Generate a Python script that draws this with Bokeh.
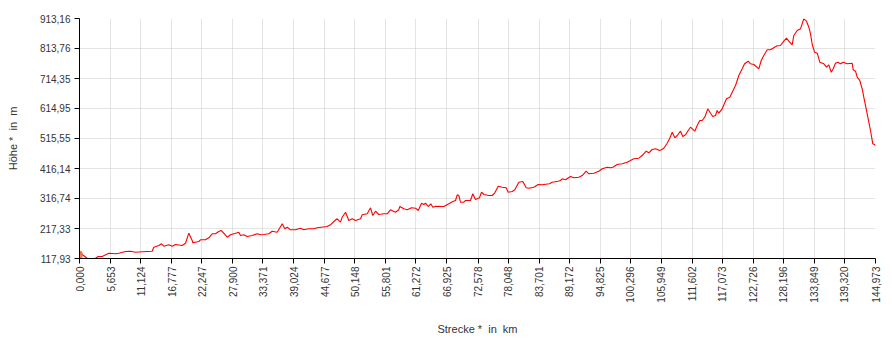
from bokeh.plotting import figure
from bokeh.models import Range1d, FixedTicker
from bokeh.embed import file_html
from bokeh.resources import INLINE
import math

# ---- data ----
dist_km = [0.00, 0.49, 1.40, 2.00, 2.91, 3.41, 4.13, 5.34, 6.56, 7.16, 8.38, 9.29, 10.20, 11.42, 12.33,
           13.24, 13.53, 14.44, 14.93, 15.35, 16.26, 16.88, 17.48, 18.70, 19.31, 19.91, 20.53, 20.64,
           21.73, 22.04, 22.95, 23.55, 24.17, 24.77, 25.37, 25.81, 26.28, 26.90, 27.50, 28.72, 29.01,
           29.32, 29.92, 30.54, 31.45, 32.36, 32.97, 33.57, 34.48, 35.10, 36.01, 36.92, 37.39, 37.83,
           38.43, 39.34, 40.25, 40.85, 41.76, 42.67, 43.29, 45.11, 45.71, 46.32, 46.93, 47.54, 47.84,
           48.45, 49.05, 49.67, 50.27, 51.18, 51.49, 52.40, 53.00, 53.42, 53.91, 54.51, 55.42, 56.04,
           56.64, 57.55, 58.15, 58.34, 59.07, 59.68, 60.47, 61.20, 61.69, 62.29, 62.71, 63.02, 63.51,
           63.98, 64.35, 64.84, 66.35, 67.26, 67.99, 68.48, 68.79, 69.08, 69.39, 69.99, 70.30, 71.21,
           71.63, 72.12, 72.85, 73.22, 73.64, 74.55, 75.16, 75.64, 76.26, 76.99, 77.71, 78.08, 78.81,
           79.28, 80.01, 80.74, 81.36, 81.83, 82.74, 83.54, 84.27, 85.60, 86.09, 87.18, 87.60, 87.91,
           88.52, 89.42, 90.03, 90.94, 91.56, 92.28, 92.76, 93.67, 94.58, 95.20, 96.11, 96.71, 97.13,
           97.93, 98.84, 99.75, 100.35, 100.95, 101.86, 102.48, 103.21, 103.69, 104.31, 104.91, 105.64,
           106.00, 106.42, 107.04, 107.46, 107.95, 108.42, 108.86, 109.46, 109.88, 110.37, 110.86,
           111.28, 112.06, 112.50, 112.97, 113.41, 113.88, 114.43, 114.92, 115.34, 115.83, 116.14,
           116.43, 117.05, 117.84, 118.44, 118.88, 119.48, 120.08, 120.70, 121.12, 121.79, 122.21,
           122.81, 123.72, 124.16, 124.63, 125.25, 125.85, 126.45, 127.07, 127.67, 128.27, 128.76,
           129.18, 129.80, 130.09, 130.71, 131.31, 131.92, 132.41, 132.83, 133.14, 133.45, 133.87,
           134.36, 134.83, 135.56, 136.05, 136.47, 136.91, 137.27, 137.69, 138.11, 138.60, 139.09,
           139.82, 140.73, 140.91, 141.33, 141.64, 142.11, 142.55, 142.84, 143.28, 143.64, 144.06,
           144.48, 144.85, 144.973]

elev_m = [138.8, 131.2, 118.9, 118.0, 118.9, 124.6, 124.6, 135.5, 133.5, 135.5, 141.1, 142.1, 138.8,
          140.1, 141.1, 142.1, 155.4, 161.0, 166.6, 158.7, 163.3, 158.7, 164.3, 161.0, 168.6, 201.8,
          177.6, 170.0, 174.3, 179.9, 179.9, 186.5, 199.8, 199.8, 207.4, 210.7, 201.8, 188.5, 196.5,
          203.1, 205.1, 194.1, 196.5, 190.8, 194.1, 199.8, 196.5, 197.5, 199.8, 208.4, 205.1, 232.9,
          216.3, 221.6, 213.0, 213.0, 218.3, 213.0, 216.3, 216.3, 219.6, 224.0, 229.6, 240.5, 249.5,
          238.2, 254.8, 271.3, 243.8, 249.5, 243.8, 249.5, 262.7, 266.0, 285.9, 260.4, 274.7, 263.7,
          266.0, 266.0, 279.3, 271.3, 279.3, 290.2, 282.6, 279.3, 285.9, 284.6, 277.0, 301.2, 296.9,
          301.2, 290.2, 299.2, 287.9, 291.2, 290.2, 299.2, 306.8, 310.1, 329.0, 326.7, 304.5, 304.5,
          310.1, 310.1, 332.3, 313.4, 319.1, 337.6, 330.0, 326.7, 326.7, 335.6, 357.5, 354.2, 352.2,
          337.6, 339.9, 345.6, 370.8, 373.1, 352.2, 350.9, 354.2, 363.1, 362.1, 365.4, 370.8, 374.1,
          376.4, 382.0, 378.7, 389.6, 385.3, 387.3, 392.9, 407.2, 398.6, 400.6, 407.2, 415.2, 420.4,
          418.5, 420.4, 429.4, 431.7, 437.0, 442.6, 448.3, 450.3, 459.2, 473.5, 468.2, 479.1, 481.4,
          475.8, 478.1, 483.4, 500.0, 514.6, 536.4, 517.9, 525.5, 539.7, 522.2, 527.8, 542.1, 553.0,
          539.7, 558.6, 575.2, 575.2, 586.1, 613.9, 599.4, 588.4, 591.8, 608.3, 599.4, 613.9, 647.1,
          652.4, 669.0, 691.2, 724.3, 746.5, 763.1, 771.7, 763.1, 760.7, 746.5, 774.0, 790.6, 809.4,
          809.4, 816.1, 822.7, 823.7, 838.0, 847.9, 838.0, 826.0, 856.8, 873.4, 879.0, 912.2, 904.2,
          884.3, 862.5, 827.0, 801.5, 798.2, 768.4, 763.1, 751.8, 759.7, 735.2, 746.5, 765.0, 768.4,
          763.1, 768.4, 763.1, 765.0, 743.2, 738.6, 718.7, 707.7, 680.2, 652.4, 613.9, 580.8, 542.1,
          498.0, 494.7, 492.0]

start_marker_km = [0.2]
start_marker_m = [130.0]

x_ticks = [0.000, 5.653, 11.124, 16.777, 22.247, 27.900, 33.371, 39.024, 44.677, 50.148, 55.801,
           61.272, 66.925, 72.578, 78.048, 83.701, 89.172, 94.825, 100.296, 105.949, 111.602,
           117.073, 122.726, 128.196, 133.849, 139.320, 144.973]
x_tick_labels = ["0,000", "5,653", "11,124", "16,777", "22,247", "27,900", "33,371", "39,024",
                 "44,677", "50,148", "55,801", "61,272", "66,925", "72,578", "78,048", "83,701",
                 "89,172", "94,825", "100,296", "105,949", "111,602", "117,073", "122,726",
                 "128,196", "133,849", "139,320", "144,973"]
y_ticks = [117.93, 217.33, 316.74, 416.14, 515.55, 614.95, 714.35, 813.76, 913.16]
y_tick_labels = ["117,93", "217,33", "316,74", "416,14", "515,55", "614,95", "714,35",
                 "813,76", "913,16"]

FONT = "Liberation Sans"

p = figure(frame_width=796, frame_height=240, output_backend="svg", toolbar_location=None,
           x_range=Range1d(0, 144.973), y_range=Range1d(117.93, 913.16),
           min_border_left=79, min_border_right=12, min_border_top=18, min_border_bottom=5)
p.outline_line_color = None
p.background_fill_color = "white"

p.line(dist_km, elev_m, line_color="#ff0000", line_width=1.1)
p.ellipse(start_marker_km, start_marker_m, width=0.8, height=28,
          fill_color="#f26a3a", fill_alpha=0.85, line_color=None)

# axes
p.xaxis.ticker = FixedTicker(ticks=x_ticks)
p.xaxis.major_label_overrides = {t: l for t, l in zip(x_ticks, x_tick_labels)}
p.yaxis.ticker = FixedTicker(ticks=y_ticks)
p.yaxis.major_label_overrides = {t: l for t, l in zip(y_ticks, y_tick_labels)}
p.xaxis.major_label_orientation = math.pi / 2
p.xaxis.axis_label = "Strecke *\u00a0 in\u00a0 km"
p.yaxis.axis_label = "Höhe *\u00a0 in\u00a0 m"

for ax in (p.xaxis, p.yaxis):
    ax.axis_line_color = "black"
    ax.axis_line_width = 1
    ax.major_tick_line_color = "black"
    ax.major_tick_out = 5
    ax.major_tick_in = 0
    ax.minor_tick_line_color = None
    ax.major_label_text_font = FONT
    ax.major_label_text_font_size = "10px"
    ax.major_label_text_color = "#333333"
    ax.axis_label_text_font = FONT
    ax.axis_label_text_font_size = "11px"
    ax.axis_label_text_font_style = "normal"
    ax.axis_label_text_color = "#333333"

p.xaxis.major_label_standoff = 3
p.yaxis.major_label_standoff = 4
p.xaxis.axis_label_standoff = 17
p.yaxis.axis_label_standoff = 18

for g in (p.xgrid, p.ygrid):
    g.grid_line_color = "#c8c8c8"
    g.grid_line_dash = "1 1"
    g.grid_line_width = 1
p.xgrid.ticker = FixedTicker(ticks=x_ticks)
p.ygrid.ticker = FixedTicker(ticks=y_ticks)

open("out.html", "w").write(file_html(p, INLINE))
